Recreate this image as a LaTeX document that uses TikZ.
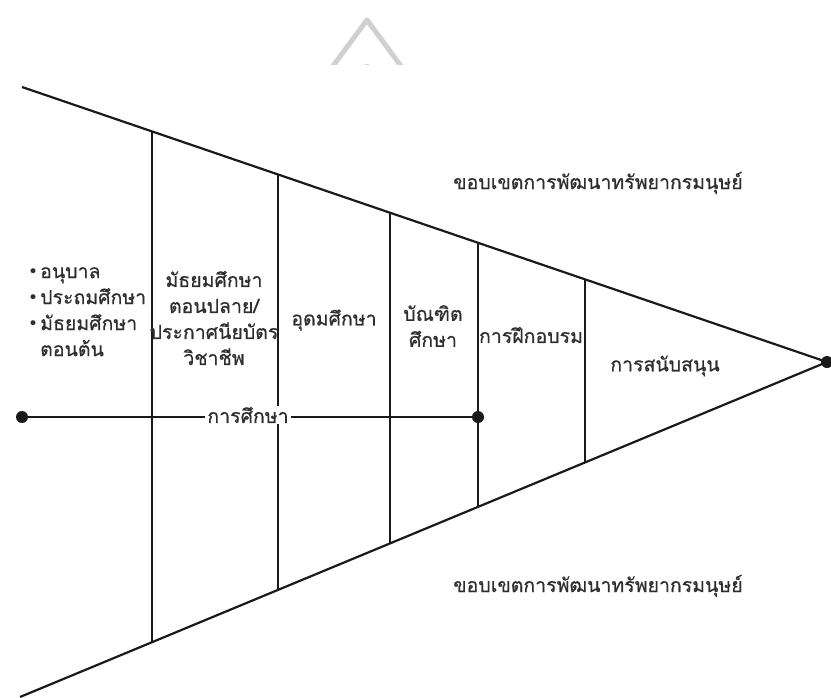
\documentclass[tikz,border=0pt]{standalone}
\usepackage{fontspec}
\newfontfamily\thaifont[Script=Thai, FakeBold=0.6]{Loma}
\newfontfamily\symfont{DejaVu Sans}
\usetikzlibrary{calc}
\definecolor{ink}{HTML}{1A1A1A}
\definecolor{txt}{HTML}{2E2E2E}
\definecolor{wm}{HTML}{D0D0D0}
\tikzset{
  edge/.style={draw=ink, line width=2.2pt},
  divider/.style={draw=ink, line width=1.8pt},
  lbl/.style={text=txt, font=\thaifont\fontsize{19.5}{26}\selectfont, align=center, inner sep=1pt},
  dotmark/.style={circle, fill=ink, inner sep=0pt, minimum size=12pt},
}
\newcommand{\blt}{\makebox[12pt][l]{{\symfont\fontsize{17}{17}\selectfont\raisebox{1pt}{•}}}}
\begin{document}
\begin{tikzpicture}[x=1pt, y=-1pt]
\useasboundingbox (0,0) rectangle (831,697);
% faint mark at top
\begin{scope}
\clip (300,0) rectangle (460,64);
\draw[wm, line width=5pt, line cap=round, line join=round] (333,66) -- (367,20) -- (401,66);
\fill[wm] (367,70) circle (6pt);
\end{scope}
% funnel
\coordinate (tl) at (22,87);
\coordinate (bl) at (20,697);
\coordinate (apex) at (827,362);
\draw[edge] (tl) -- (apex);
\draw[edge] (bl) -- (apex);
% dividers
\foreach \x/\n in {152/a,278/b,390/c,478/d,585/e}{
  \coordinate (t\n) at ($(tl)!{(\x-22)/805}!(apex)$);
  \coordinate (b\n) at ($(bl)!{(\x-20)/807}!(apex)$);
  \draw[divider] (t\n) -- (b\n);
}
% education line
\node[dotmark] (ledu) at (22,417) {};
\node[dotmark] (redu) at (478,417) {};
\draw[divider] (ledu.center) -- (redu.center);
\node[lbl, fill=white, inner xsep=2pt] (edu) at (248,415) {การศึกษา};
\node[dotmark] (apexdot) at (apex) {};
% labels
\node[lbl, align=left, anchor=north west] (early) at (27,266) {\blt อนุบาล\\\blt ประถมศึกษา\\\blt มัธยมศึกษา\\\hspace*{12pt}ตอนต้น};
\node[lbl] (sec) at (214,318) {มัธยมศึกษา\\ตอนปลาย/\\ประกาศนียบัตร\\วิชาชีพ};
\node[lbl] (higher) at (334,320) {อุดมศึกษา};
\node[lbl] (grad) at (433,326) {บัณฑิต\\ศึกษา};
\node[lbl] (train) at (531,335) {การฝึกอบรม};
\node[lbl] (support) at (665,366) {การสนับสนุน};
\node[lbl] (scopetop) at (598,183) {ขอบเขตการพัฒนาทรัพยากรมนุษย์};
\node[lbl] (scopebot) at (598,586) {ขอบเขตการพัฒนาทรัพยากรมนุษย์};
\end{tikzpicture}
\end{document}
